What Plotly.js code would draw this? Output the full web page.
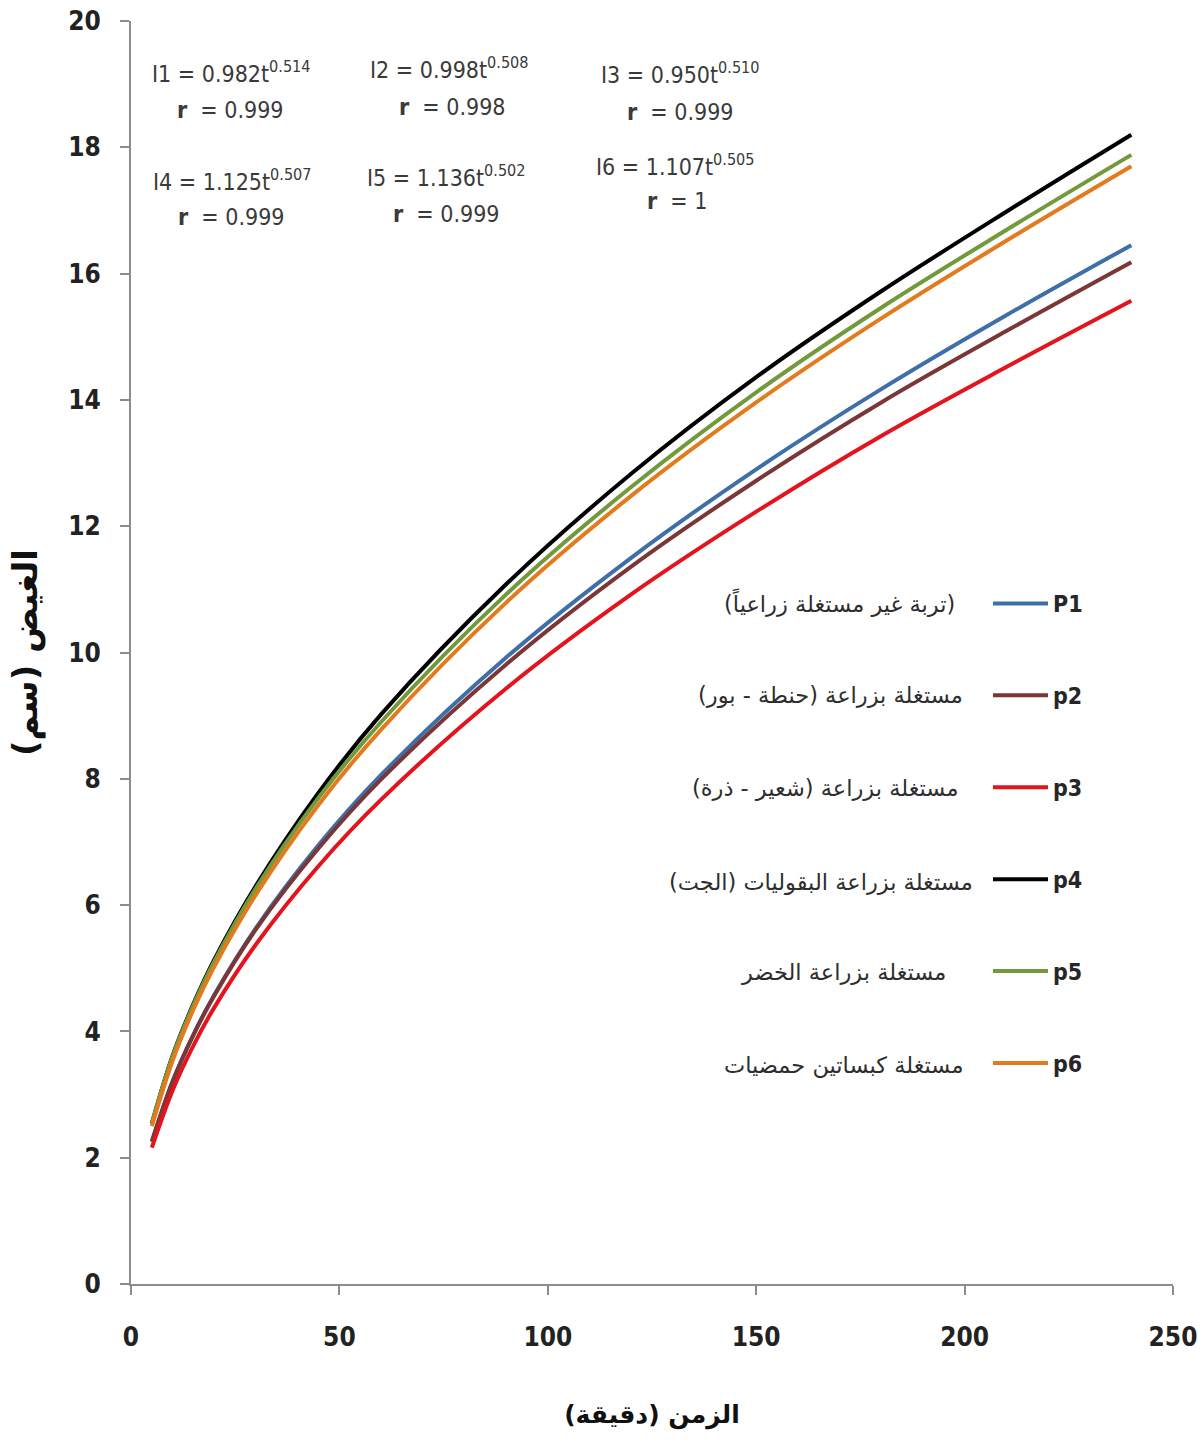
<!DOCTYPE html>
<html>
<head>
<meta charset="utf-8">
<script src="https://cdn.plot.ly/plotly-3.0.1.min.js"></script>
<style>html,body{margin:0;padding:0;background:#fff;}#chart{width:1202px;height:1445px;}</style>
</head>
<body>
<div id="chart"></div>
<script>
// Time (minutes)
const t = [5, 10, 15, 20, 30, 45, 60, 90, 120, 150, 180, 210, 240];
// Cumulative infiltration (cm)
const p1 = [2.25, 3.21, 3.95, 4.58, 5.64, 6.95, 8.06, 9.92, 11.50, 12.90, 14.17, 15.34, 16.45];
const p2 = [2.26, 3.21, 3.95, 4.57, 5.62, 6.90, 7.99, 9.81, 11.36, 12.72, 13.96, 15.09, 16.18];
const p3 = [2.16, 3.07, 3.78, 4.38, 5.38, 6.62, 7.67, 9.43, 10.92, 12.23, 13.43, 14.52, 15.57];
const p4 = [2.54, 3.62, 4.44, 5.14, 6.31, 7.78, 9.02, 11.08, 12.83, 14.36, 15.72, 16.98, 18.20];
const p5 = [2.55, 3.61, 4.42, 5.11, 6.27, 7.70, 8.90, 10.92, 12.62, 14.12, 15.46, 16.69, 17.88];
const p6 = [2.50, 3.54, 4.35, 5.03, 6.17, 7.59, 8.78, 10.79, 12.48, 13.96, 15.29, 16.52, 17.70];

const seriesNames = ['P1', 'p2', 'p3', 'p4', 'p5', 'p6'];
const seriesDesc = [
  '(تربة غير مستغلة زراعياً)',
  'مستغلة بزراعة (حنطة - بور)',
  'مستغلة بزراعة (شعير - ذرة)',
  'مستغلة بزراعة البقوليات (الجت)',
  'مستغلة بزراعة الخضر',
  'مستغلة كبساتين حمضيات'
];
const eqLabels = ['I1 = 0.982t<sup>0.514</sup>', 'I2 = 0.998t<sup>0.508</sup>', 'I3 = 0.950t<sup>0.510</sup>',
                  'I4 = 1.125t<sup>0.507</sup>', 'I5 = 1.136t<sup>0.502</sup>', 'I6 = 1.107t<sup>0.505</sup>'];
const rLabels = ['0.999', '0.998', '0.999', '0.999', '0.999', '1'];
const xTitle = 'الزمن (دقيقة)';
const yTitle = 'الغيض (سم)';

const colors = ['#3f6fa8', '#7b3636', '#e3141e', '#000000', '#72993a', '#e37a1e'];
const values = [p1, p2, p3, p4, p5, p6];

const RLM = '\u200F';
const numFont = 'DejaVu Sans Condensed, Liberation Sans Narrow, Liberation Sans, sans-serif';
const arFont = 'DejaVu Sans, sans-serif';

// plot geometry helpers for text placement (pixels -> axis units)
const L = 131, R = 1173, T = 21, B = 1284;
const px2x = p => (p - L) / (R - L) * 250;
const py2y = p => (B - p) / (B - T) * 20;

const traces = values.map((v, i) => ({
  x: t, y: v, type: 'scatter', mode: 'lines',
  name: '<b>' + seriesNames[i] + '</b>',
  legendgroup: 'g' + i,
  line: {color: colors[i], width: 4, shape: 'spline', smoothing: 1},
  hoverinfo: 'x+y'
}));

const annotations = [];
const eqPos = [[231, 72, 230, 110], [449, 68, 452, 107], [680, 73, 680, 112],
               [232, 180, 231, 217], [446, 176, 446, 214], [675, 165, 677, 201]];
eqPos.forEach((p, i) => {
  annotations.push({x: px2x(p[0]), y: py2y(p[1]), xref: 'x', yref: 'y', text: eqLabels[i],
    showarrow: false, font: {family: numFont, size: 23, color: '#3a3a3a'}});
  annotations.push({x: px2x(p[2]), y: py2y(p[3]), xref: 'x', yref: 'y',
    text: '<b>r</b>  = ' + rLabels[i],
    showarrow: false, font: {family: numFont, size: 23, color: '#3a3a3a'}});
});
const descY = [603, 695, 788, 882, 972, 1065];
const descX = [957, 965, 960, 975, 948, 965];
seriesDesc.forEach((d, i) => {
  annotations.push({x: px2x(descX[i]), y: py2y(descY[i]), xref: 'x', yref: 'y', xanchor: 'right',
    text: RLM + d + RLM, showarrow: false, font: {family: arFont, size: 22.5, color: '#2e2e2e'}});
});

const layout = {
  width: 1202, height: 1445,
  margin: {l: L, r: 1202 - R, t: T, b: 1445 - B},
  paper_bgcolor: '#ffffff', plot_bgcolor: '#ffffff',
  showlegend: true,
  legend: {x: (988 - L) / (R - L), y: (B - 582) / (B - T), xanchor: 'left', yanchor: 'top',
    traceorder: 'grouped', tracegroupgap: 59, itemwidth: 55, bgcolor: 'rgba(0,0,0,0)',
    font: {family: numFont, size: 23, color: '#262626'}},
  xaxis: {range: [0, 250], dtick: 50, tick0: 0, showgrid: false, zeroline: false,
    showline: true, linecolor: '#8c8c8c', linewidth: 2, ticks: 'outside', ticklen: 9,
    tickcolor: '#8c8c8c', tickwidth: 2, ticklabelstandoff: 20,
    tickfont: {family: numFont, size: 26, color: '#222222', weight: 'bold'},
    title: {text: RLM + xTitle + RLM, standoff: 54,
      font: {family: arFont, size: 25, color: '#111111', weight: 'bold'}}},
  yaxis: {range: [0, 20], dtick: 2, tick0: 0, showgrid: false, zeroline: false,
    showline: true, linecolor: '#8c8c8c', linewidth: 2, ticks: 'outside', ticklen: 9,
    tickcolor: '#8c8c8c', tickwidth: 2, ticklabelstandoff: 14,
    tickfont: {family: numFont, size: 26, color: '#222222', weight: 'bold'},
    title: {text: RLM + yTitle + RLM, standoff: 20,
      font: {family: arFont, size: 34, color: '#111111', weight: 'bold'}}},
  annotations: annotations
};

Plotly.newPlot('chart', traces, layout, {displayModeBar: false, staticPlot: true});
</script>
</body>
</html>
